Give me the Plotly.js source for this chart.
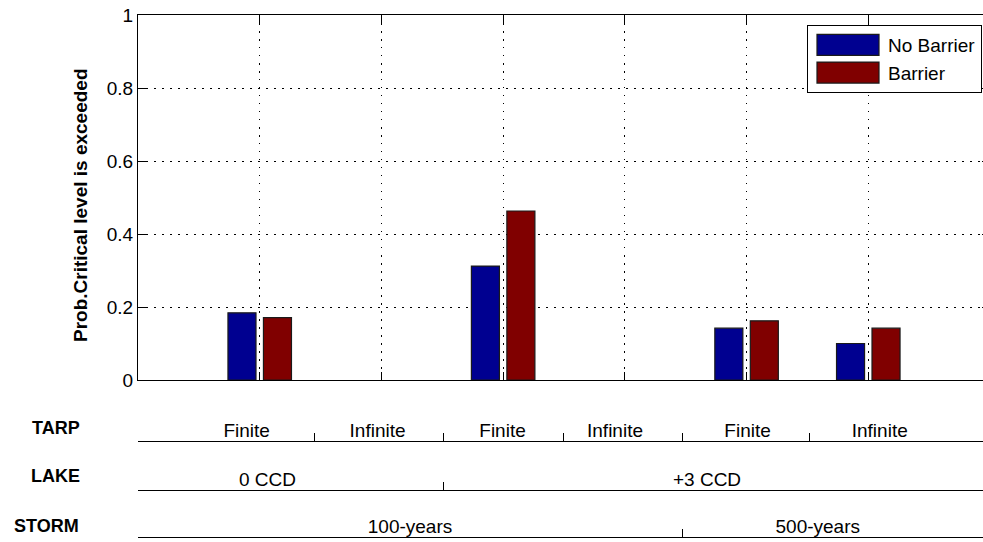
<!DOCTYPE html>
<html>
<head>
<meta charset="utf-8">
<script src="https://cdn.plot.ly/plotly-3.0.1.min.js"></script>
<style>
html,body{margin:0;padding:0;background:#fff;overflow:hidden;}
#chart{width:992px;height:542px;}
</style>
</head>
<body>
<div id="chart"></div>
<script>
// ---- data ----
var categories = [1, 2, 3, 4, 5, 6];
var noBarrier = [0.184, 0, 0.312, 0, 0.142, 0.100];
var barrier   = [0.171, 0, 0.463, 0, 0.162, 0.142];
var seriesNames = ['No Barrier', 'Barrier'];
var yTickVals = [0, 0.2, 0.4, 0.6, 0.8, 1];
var yTickText = ['0', '0.2', '0.4', '0.6', '0.8', '1'];
var yTitle = 'Prob.Critical level is exceeded';

var rowNames = ['TARP', 'LAKE', 'STORM'];
var tarpLabels = ['Finite', 'Infinite', 'Finite', 'Infinite', 'Finite', 'Infinite'];
var tarpLabelPos = [0.893, 1.968, 2.995, 3.919, 5.008, 6.094];
var tarpDividers = [1.454, 2.508, 3.494, 4.472, 5.521];
var lakeLabels = ['0 CCD', '+3 CCD'];
var lakeLabelPos = [1.064, 4.675];
var lakeDividers = [2.508];
var stormLabels = ['100-years', '500-years'];
var stormLabelPos = [2.235, 5.585];
var stormDividers = [4.472];

// ---- style ----
var FONT = 'Liberation Sans, Arial, sans-serif';
var XR = [0, 7];
var plotTop = 15, plotBot = 537, H = 542;
function py(pix){ return (plotBot - pix) / (plotBot - plotTop); }
var rowLineY = [441, 490, 537.5];
// zero-height bars are not drawn in the reference
function hideZero(arr){ return arr.map(function(v){ return v === 0 ? null : v; }); }

var traces = [
  {type:'bar', x:categories, y:hideZero(noBarrier), name:seriesNames[0],
   marker:{color:'#000090', line:{color:'#1a1a1a', width:1.2}}},
  {type:'bar', x:categories, y:hideZero(barrier), name:seriesNames[1],
   marker:{color:'#800000', line:{color:'#1a1a1a', width:1.2}}}
];
['x2','x3','x4','x5','x6','x7'].forEach(function(ax){
  traces.push({type:'scatter', x:[], y:[], xaxis:ax, yaxis:'y', showlegend:false, hoverinfo:'skip'});
});

function lineAxis(pos, dividers){
  return {anchor:'free', overlaying:'x', position:pos, side:'top', range:XR,
    showline:true, linecolor:'#000', linewidth:1, showgrid:false, zeroline:false,
    ticks:'outside', ticklen:8, tickwidth:1, tickcolor:'#000',
    tickmode:'array', tickvals:dividers, showticklabels:false};
}
function labelAxis(pos, vals, text){
  return {anchor:'free', overlaying:'x', position:pos, side:'top', range:XR,
    showline:false, showgrid:false, zeroline:false, ticks:'', ticklen:0,
    tickmode:'array', tickvals:vals, ticktext:text, showticklabels:true,
    tickfont:{family:FONT, size:19, color:'#000'}};
}

var layout = {
  width:992, height:H,
  margin:{l:138, r:2, t:plotTop, b:H-plotBot},
  paper_bgcolor:'#fff', plot_bgcolor:'#fff',
  font:{family:FONT, size:19, color:'#000'},
  barmode:'group', bargap:0.417, bargroupgap:0.21,
  showlegend:true,
  legend:{x:(982-138)/852, xanchor:'right', y:py(25), yanchor:'top',
    bgcolor:'#fff', bordercolor:'#000', borderwidth:1,
    font:{family:FONT, size:19, color:'#000'}, itemwidth:70,
    tracegroupgap:0},
  xaxis:{range:XR, domain:[0,1], showline:true, mirror:'ticks', linecolor:'#000', linewidth:1,
    ticks:'inside', ticklen:8, tickcolor:'#000', tickmode:'array', tickvals:categories,
    showticklabels:false, showgrid:true, gridcolor:'#000', gridwidth:1, griddash:'1.5px,6.5px',
    zeroline:false},
  yaxis:{range:[0,1], domain:[py(380), 1], showline:true, mirror:'ticks', linecolor:'#000', linewidth:1,
    ticks:'inside', ticklen:8, tickcolor:'#000', tickmode:'array', tickvals:yTickVals, ticktext:yTickText,
    tickfont:{family:FONT, size:19, color:'#000'},
    showgrid:true, gridcolor:'#000', gridwidth:1, griddash:'1.5px,6.5px', zeroline:false},
  xaxis2:lineAxis(py(rowLineY[0]), tarpDividers),
  xaxis3:labelAxis(py(rowLineY[0]), tarpLabelPos, tarpLabels),
  xaxis4:lineAxis(py(rowLineY[1]), lakeDividers),
  xaxis5:labelAxis(py(rowLineY[1]), lakeLabelPos, lakeLabels),
  xaxis6:lineAxis(Math.max(0, py(rowLineY[2])), stormDividers),
  xaxis7:labelAxis(Math.max(0, py(rowLineY[2])), stormLabelPos, stormLabels),
  annotations:[
    {xref:'paper', yref:'paper', x:(81-138)/852, y:py(205), xanchor:'center', yanchor:'middle',
     text:'<b>'+yTitle+'</b>', textangle:-90, showarrow:false,
     font:{family:FONT, size:19, color:'#000'}},
    {xref:'paper', yref:'paper', x:(82-138)/852, y:py(427.5), xanchor:'right', yanchor:'middle',
     text:'<b>'+rowNames[0]+'</b>', showarrow:false, font:{family:FONT, size:18, color:'#000'}},
    {xref:'paper', yref:'paper', x:(82-138)/852, y:py(476), xanchor:'right', yanchor:'middle',
     text:'<b>'+rowNames[1]+'</b>', showarrow:false, font:{family:FONT, size:18, color:'#000'}},
    {xref:'paper', yref:'paper', x:(81-138)/852, y:py(525.5), xanchor:'right', yanchor:'middle',
     text:'<b>'+rowNames[2]+'</b>', showarrow:false, font:{family:FONT, size:18, color:'#000'}}
  ]
};

Plotly.newPlot('chart', traces, layout, {staticPlot:true, displayModeBar:false}).then(function(gd){
  // MATLAB-style wide legend swatches
  gd.querySelectorAll('.legend .legendpoints path').forEach(function(p){
    p.setAttribute('d', 'M31,10.5H-31V-10.5H31Z');
  });
});
</script>
</body>
</html>
